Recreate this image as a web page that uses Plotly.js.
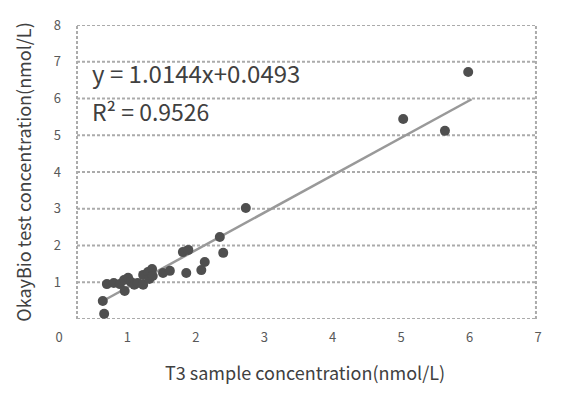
<!DOCTYPE html>
<html>
<head>
<meta charset="utf-8">
<script src="https://cdn.plot.ly/plotly-3.0.1.min.js"></script>
<style>html,body{margin:0;padding:0;background:#fff;}#chart{width:561px;height:395px;}</style>
</head>
<body>
<div id="chart"></div>
<script>
// Sample data (x: T3 sample, y: OkayBio test), nmol/L
const sampleX = [0.66, 0.64, 0.70, 0.80, 0.89, 0.95, 1.01, 0.96, 1.05, 1.10,
                 1.15, 1.23, 1.23, 1.30, 1.36, 1.32, 1.37, 1.52, 1.62, 1.81,
                 1.89, 1.86, 2.08, 2.13, 2.35, 2.40, 2.73, 5.03, 5.64, 5.98];
const testY   = [0.14, 0.49, 0.95, 0.98, 0.95, 1.06, 1.12, 0.76, 1.01, 0.93,
                 0.98, 0.93, 1.20, 1.28, 1.36, 1.09, 1.17, 1.25, 1.31, 1.82,
                 1.88, 1.25, 1.33, 1.55, 2.23, 1.80, 3.02, 5.44, 5.12, 6.72];
// Trendline end points as drawn in the reference
const trendX = [0.64, 6.03];
const trendY = [0.49, 5.98];
const xTicks = [0, 1, 2, 3, 4, 5, 6, 7];
const yTicks = [1, 2, 3, 4, 5, 6, 7, 8];
const gridY = [0, 1, 2, 3, 4, 5, 6, 7, 8];
const equationText = 'y = 1.0144x+0.0493';
const r2Text = 'R² = 0.9526';
const xTitle = 'T3 sample concentration(nmol/L)';
const yTitle = 'OkayBio test concentration(nmol/L)';

const FONT = '"Noto Sans CJK SC", "Noto Sans", sans-serif';
const xLeft = 0.263, xRight = 6.97;
const gridStyle = {color: '#ababab', width: 2, dash: '3px,2px'};

const shapes = gridY.map(v => ({
  type: 'line', xref: 'x', yref: 'y', x0: xLeft, x1: xRight, y0: v, y1: v,
  line: gridStyle, layer: 'below'
}));
[xLeft, xRight].forEach(v => shapes.push({
  type: 'line', xref: 'x', yref: 'y', x0: v, x1: v, y0: 0, y1: 8,
  line: gridStyle, layer: 'below'
}));

const traces = [
  {x: trendX, y: trendY, mode: 'lines', type: 'scatter',
   line: {color: '#999999', width: 2.5}, hoverinfo: 'skip'},
  {x: sampleX, y: testY, mode: 'markers', type: 'scatter',
   marker: {color: '#4f4f4f', size: 10}}
];

const layout = {
  width: 561, height: 395,
  margin: {l: 59, r: 23, t: 25, b: 76},
  paper_bgcolor: '#fff', plot_bgcolor: '#fff',
  showlegend: false,
  font: {family: FONT, color: '#595959'},
  xaxis: {
    range: [0, 7], tickvals: xTicks, showgrid: false, zeroline: false, showline: false,
    ticks: 'outside', ticklen: 6, tickcolor: 'rgba(0,0,0,0)',
    tickfont: {family: FONT, size: 13, color: '#595959'}
  },
  yaxis: {
    range: [0, 8], tickvals: yTicks, showgrid: false, zeroline: false, showline: false,
    anchor: 'free', position: 0.004,
    tickfont: {family: FONT, size: 13, color: '#595959'},
    title: {text: yTitle, font: {family: FONT, size: 18, color: '#404040'}, standoff: 16}
  },
  shapes: shapes,
  annotations: [
    {xref: 'paper', yref: 'paper', x: (90 - 59) / 479, y: (319 - 73) / 294, xanchor: 'left', yanchor: 'middle',
     text: equationText, showarrow: false, font: {family: FONT, size: 24, color: '#404040'}},
    {xref: 'paper', yref: 'paper', x: (90 - 59) / 479, y: (319 - 111) / 294, xanchor: 'left', yanchor: 'middle',
     text: r2Text, showarrow: false, font: {family: FONT, size: 23, color: '#404040'}},
    {xref: 'paper', yref: 'paper', x: (305 - 59) / 479, y: (319 - 372) / 294, xanchor: 'center', yanchor: 'middle',
     text: xTitle, showarrow: false, font: {family: FONT, size: 18, color: '#404040'}}
  ]
};

Plotly.newPlot('chart', traces, layout, {displayModeBar: false, staticPlot: true});
</script>
</body>
</html>
